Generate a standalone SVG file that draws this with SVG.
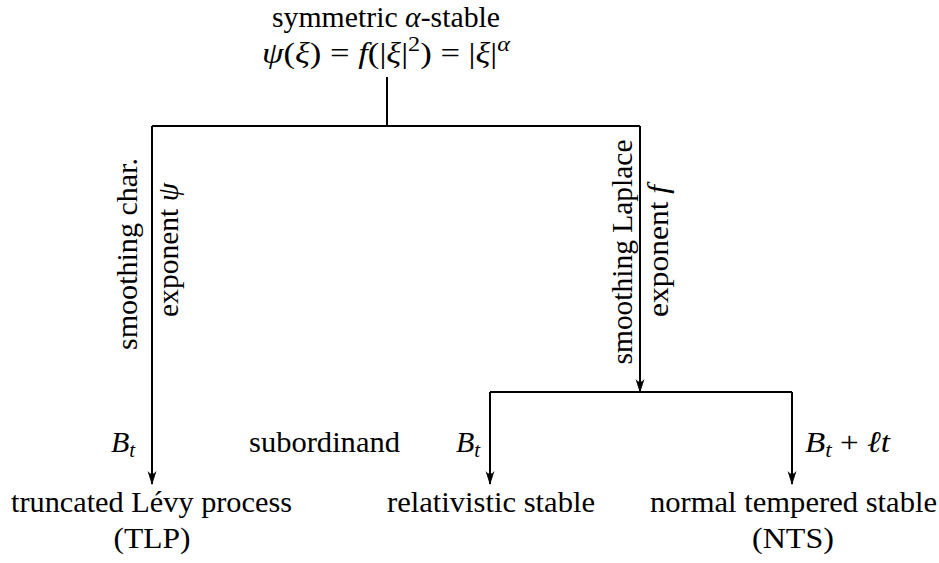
<svg xmlns="http://www.w3.org/2000/svg" width="939" height="563" viewBox="0 0 939 563" font-family="Liberation Serif, serif">
<style>
svg text, svg tspan{font-family:"Liberation Serif",serif !important}
.t{font-size:30px;fill:#000}
.m{font-style:italic}
.c{text-anchor:middle}
.ln{stroke:#000;stroke-width:2;fill:none}
</style>
<defs>
<marker id="ah" viewBox="0 0 14 12" refX="13" refY="6" markerWidth="14" markerHeight="12" markerUnits="userSpaceOnUse" orient="auto">
<path d="M0,1.5 Q6,6 0,10.5 L14,6 Z" fill="#000"/>
</marker>
</defs>
<rect width="939" height="563" fill="#fff"/>
<g id="connectors">
<path class="ln" d="M387,77 V126"/>
<path class="ln" d="M152,126 H640"/>
<path class="ln" d="M152,126 V484" marker-end="url(#ah)"/>
<path class="ln" d="M640,126 V392" marker-end="url(#ah)"/>
<path class="ln" d="M490,392 H792"/>
<path class="ln" d="M490,392 V484" marker-end="url(#ah)"/>
<path class="ln" d="M792,392 V484" marker-end="url(#ah)"/>
</g>
<g id="root">
<text style="font-family:'Liberation Serif',serif !important" class="t c" x="386" y="27" textLength="228" lengthAdjust="spacingAndGlyphs">symmetric <tspan class="m">α</tspan>-stable</text>
<text style="font-family:'Liberation Serif',serif !important" class="t c" x="386" y="63" textLength="248" lengthAdjust="spacingAndGlyphs"><tspan class="m">ψ</tspan>(<tspan class="m">ξ</tspan>) = <tspan class="m">f</tspan>(|<tspan class="m">ξ</tspan>|<tspan font-size="21" dy="-12">2</tspan><tspan dy="12">) = |</tspan><tspan class="m">ξ</tspan>|<tspan class="m" font-size="21" dy="-12">α</tspan></text>
</g>
<g id="edge-labels">
<text style="font-family:'Liberation Serif',serif !important" class="t c" transform="translate(137,254) rotate(-90)" textLength="192" lengthAdjust="spacingAndGlyphs">smoothing char.</text>
<text style="font-family:'Liberation Serif',serif !important" class="t c" transform="translate(178,250) rotate(-90)" textLength="134" lengthAdjust="spacingAndGlyphs">exponent <tspan class="m">ψ</tspan></text>
<text style="font-family:'Liberation Serif',serif !important" class="t c" transform="translate(632,252) rotate(-90)" textLength="225" lengthAdjust="spacingAndGlyphs">smoothing Laplace</text>
<text style="font-family:'Liberation Serif',serif !important" class="t c" transform="translate(668,251) rotate(-90)" textLength="132" lengthAdjust="spacingAndGlyphs">exponent <tspan class="m">f</tspan></text>
<text style="font-family:'Liberation Serif',serif !important" class="t" x="111" y="452"><tspan class="m">B</tspan><tspan class="m" font-size="21" dy="5">t</tspan></text>
<text style="font-family:'Liberation Serif',serif !important" class="t" x="249" y="452" textLength="151" lengthAdjust="spacingAndGlyphs">subordinand</text>
<text style="font-family:'Liberation Serif',serif !important" class="t" x="456" y="452"><tspan class="m">B</tspan><tspan class="m" font-size="21" dy="5">t</tspan></text>
<text style="font-family:'Liberation Serif',serif !important" class="t" x="805" y="452" textLength="85" lengthAdjust="spacingAndGlyphs"><tspan class="m">B</tspan><tspan class="m" font-size="21" dy="5">t</tspan><tspan dy="-5"> + </tspan><tspan class="m">ℓt</tspan></text>
</g>
<g id="tlp">
<text style="font-family:'Liberation Serif',serif !important" class="t" x="11" y="512" textLength="281" lengthAdjust="spacingAndGlyphs">truncated Lévy process</text>
<text style="font-family:'Liberation Serif',serif !important" class="t c" x="152" y="548" textLength="77" lengthAdjust="spacingAndGlyphs">(TLP)</text>
</g>
<g id="relativistic">
<text style="font-family:'Liberation Serif',serif !important" class="t" x="387" y="512" textLength="208" lengthAdjust="spacingAndGlyphs">relativistic stable</text>
</g>
<g id="nts">
<text style="font-family:'Liberation Serif',serif !important" class="t" x="650" y="512" textLength="287" lengthAdjust="spacingAndGlyphs">normal tempered stable</text>
<text style="font-family:'Liberation Serif',serif !important" class="t c" x="793" y="548" textLength="82" lengthAdjust="spacingAndGlyphs">(NTS)</text>
</g>
</svg>
